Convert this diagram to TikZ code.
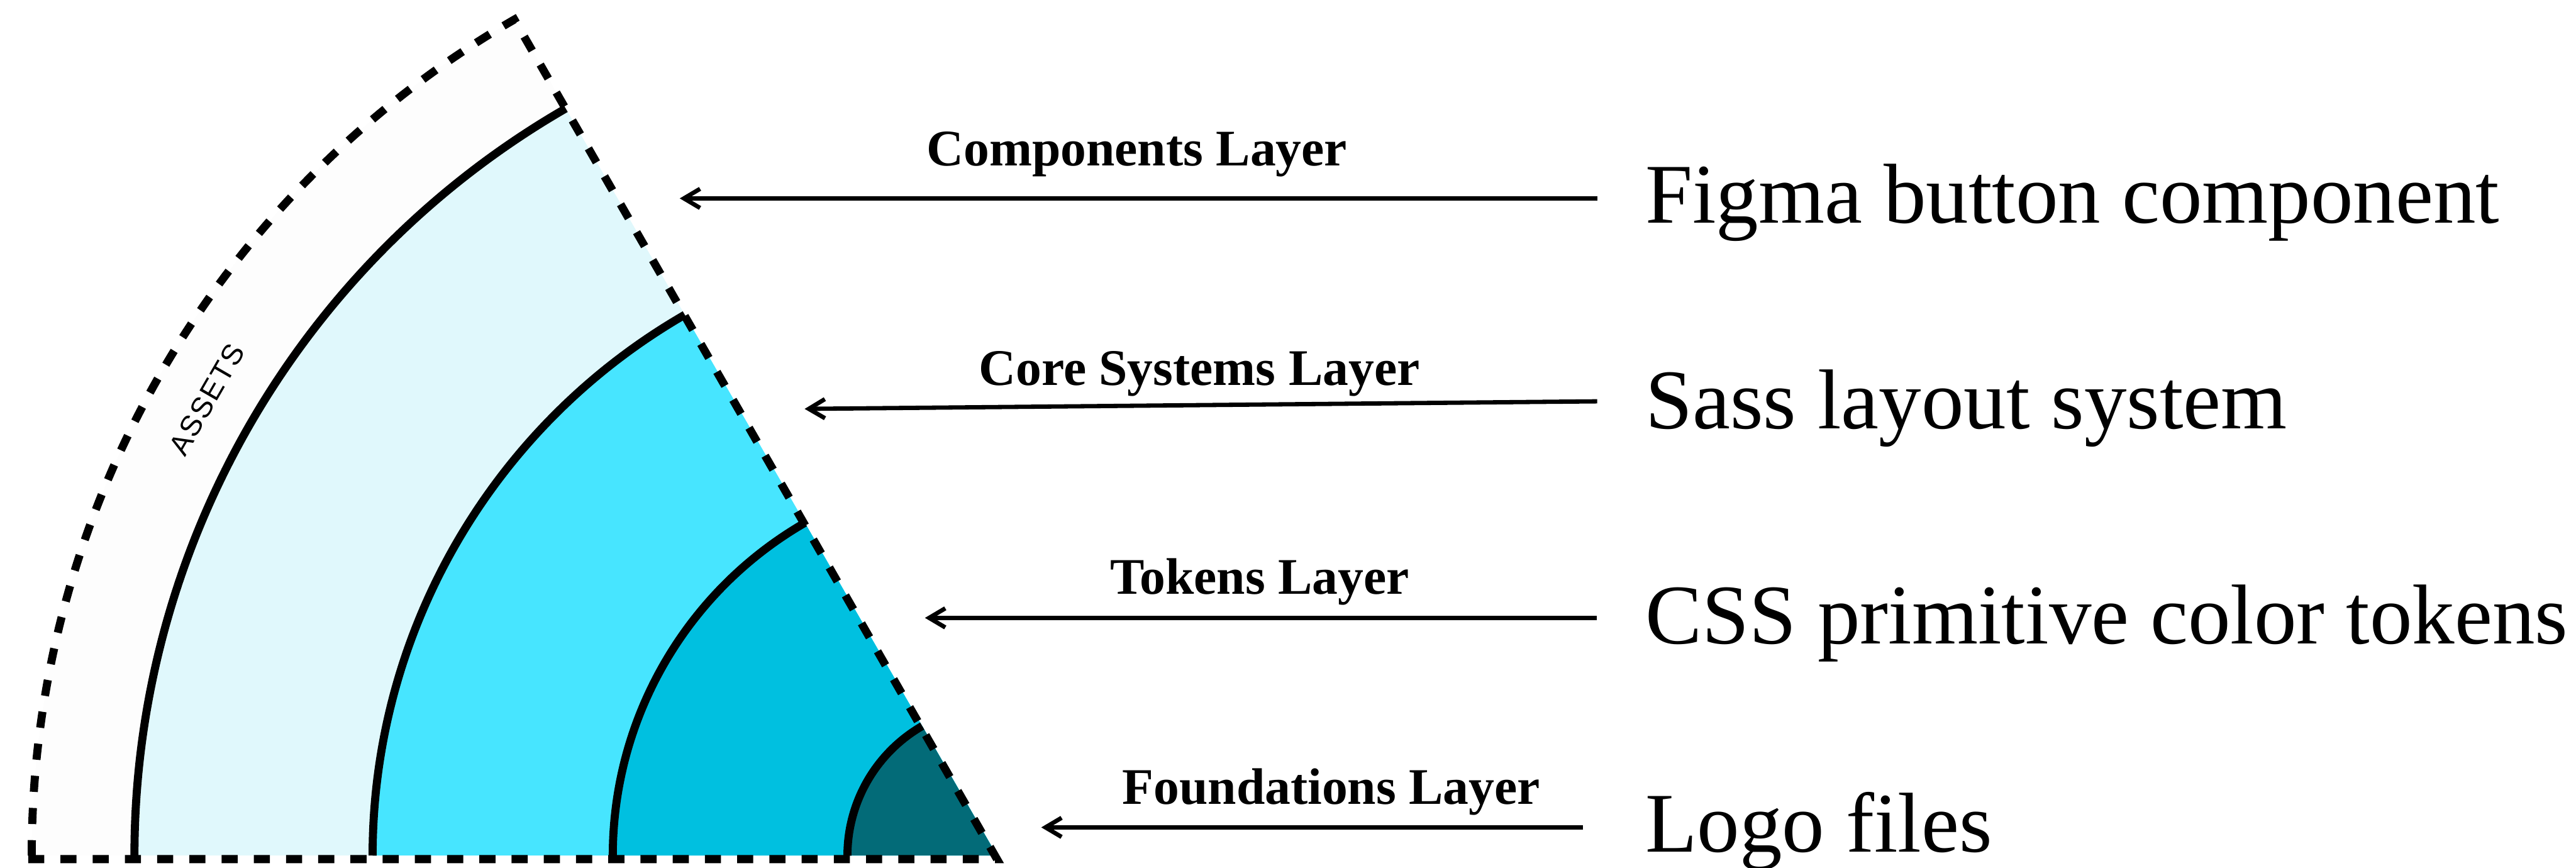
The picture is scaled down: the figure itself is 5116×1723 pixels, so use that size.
\documentclass[tikz,border=0pt]{standalone}
\usepackage{fontspec}
\setmainfont{Liberation Serif}
\newfontfamily\tagfont[LetterSpace=5]{Liberation Sans}
\usetikzlibrary{arrows.meta,calc}

\definecolor{assetsfill}{HTML}{FDFDFD}
\definecolor{compfill}{HTML}{E0F8FC}
\definecolor{corefill}{HTML}{47E5FF}
\definecolor{tokfill}{HTML}{00C0E0}
\definecolor{foundfill}{HTML}{036B78}

\begin{document}
\begin{tikzpicture}[x=0.1mm,y=0.1mm,
  ring/.style={line width=1.6mm},
  outline/.style={line width=1.6mm,dash pattern=on 3.2mm off 3.2mm},
  pointer/.style={line width=0.85mm,-{Straight Barb[length=3.2mm,width=3.8mm]}},
  layername/.style={font=\fontsize{29}{34}\selectfont\bfseries,anchor=base,inner sep=0},
  example/.style={font=\fontsize{48}{56}\selectfont,anchor=base west,inner sep=0},
  tag/.style={font=\tagfont\fontsize{16.5}{19}\selectfont,inner sep=0}]
\useasboundingbox (0,0) rectangle (5116,1723);
\coordinate (A) at (1980,24);

% nested quarter-rings, outermost first
\foreach \r/\c in {1917/assetsfill,1713/compfill,1240/corefill,763/tokfill,297/foundfill}
  \fill[\c] (A) -- ++(180:\r) arc[start angle=180,end angle=120,radius=\r] -- cycle;

% borders between the layers
\foreach \r in {1713,1240,763,297}
  \draw[ring] ($(A)+(180:\r)$) arc[start angle=180,end angle=120,radius=\r];

% dashed outline of the whole sector
\draw[outline] (56,17) -- (1980,17) -- ($(A)+(120:1917)$)
  arc[start angle=120,end angle=180,radius=1917] -- cycle;

\node[tag,rotate=60] (assets) at ($(A)+(150:1812)$) {ASSETS};

% layer names
\node[layername] (comp) at (2258,1394) {Components Layer};
\node[layername] (core) at (2382,958) {Core Systems Layer};
\node[layername] (tok) at (2502,543) {Tokens Layer};
\node[layername] (found) at (2644,126) {Foundations Layer};

% examples
\node[example] (figma) at (3267,1280) {Figma button component};
\node[example] (sass) at (3267,872) {Sass layout system};
\node[example] (css) at (3267,444) {CSS primitive color tokens};
\node[example] (logo) at (3267,31) {Logo files};

% pointers from the examples into the layers
\coordinate (s1) at (3172,1329); \coordinate (e1) at (1350,1329);
\coordinate (s2) at (3172,926);  \coordinate (e2) at (1598,911);
\coordinate (s3) at (3171,496);  \coordinate (e3) at (1837,496);
\coordinate (s4) at (3144,80);   \coordinate (e4) at (2068,80);
\draw[pointer] (s1) -- (e1);
\draw[pointer] (s2) -- (e2);
\draw[pointer] (s3) -- (e3);
\draw[pointer] (s4) -- (e4);
\end{tikzpicture}
\end{document}
